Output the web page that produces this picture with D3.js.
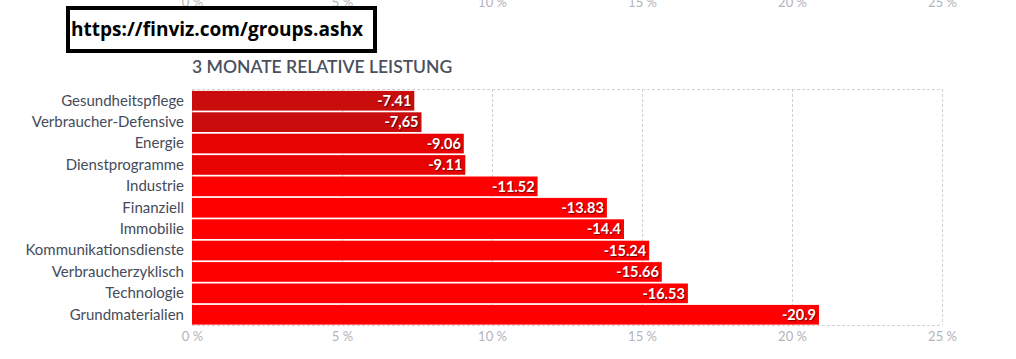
<!DOCTYPE html>
<html><head><meta charset="utf-8">
<script src="https://cdn.jsdelivr.net/npm/d3@7"></script>
<style>
html,body{margin:0;padding:0;background:#fff;}
svg{display:block;}
</style></head>
<body>
<svg id="chart" width="1016" height="359"></svg>
<script>
const categories = ["Gesundheitspflege","Verbraucher-Defensive","Energie","Dienstprogramme","Industrie","Finanziell","Immobilie","Kommunikationsdienste","Verbraucherzyklisch","Technologie","Grundmaterialien"];
const values = [-7.41,-7.65,-9.06,-9.11,-11.52,-13.83,-14.4,-15.24,-15.66,-16.53,-20.9];
const valueLabels = ["-7.41","-7,65","-9.06","-9.11","-11.52","-13.83","-14.4","-15.24","-15.66","-16.53","-20.9"];
const barColors = ["#c90c0c","#c90c0c","#e80303","#e80303","#ff0000","#ff0000","#ff0000","#ff0000","#ff0000","#ff0000","#ff0000"];
const tickValues = [0,5,10,15,20,25];
const tickLabels = ["0 %","5 %","10 %","15 %","20 %","25 %"];
const title = "3 MONATE RELATIVE LEISTUNG";
const urlText = "https://finviz.com/groups.ashx";

(function(){
const svg = d3.select("#chart");
const x = d3.scaleLinear().domain([0,25]).range([192,942]);
const y = d3.scaleBand().domain(categories).range([90.9,324.6]).paddingInner(0.08).paddingOuter(0);
const plotTop = 89, plotBottom = 325;

// grid
const g = svg.append("g");
g.selectAll("line.v").data(tickValues).join("line")
  .attr("x1", d => x(d)+0.5).attr("x2", d => x(d)+0.5)
  .attr("y1", plotTop).attr("y2", plotBottom)
  .attr("stroke", "#cfcfd6").attr("stroke-width", 1).attr("stroke-dasharray", "3,2");
g.append("line").attr("x1", x(0)).attr("x2", x(25)).attr("y1", plotTop+0.5).attr("y2", plotTop+0.5)
  .attr("stroke", "#cfcfd6").attr("stroke-dasharray", "3,2");
g.append("line").attr("x1", x(0)).attr("x2", x(25)).attr("y1", plotBottom+0.5).attr("y2", plotBottom+0.5)
  .attr("stroke", "#cfcfd6").attr("stroke-dasharray", "3,2");

// bars
svg.append("g").selectAll("rect").data(values).join("rect")
  .attr("x", x(0))
  .attr("y", (d,i) => y(categories[i]))
  .attr("width", d => x(Math.abs(d)) - x(0))
  .attr("height", y.bandwidth())
  .attr("fill", (d,i) => barColors[i]);

// value labels
svg.append("g").selectAll("text").data(values).join("text")
  .attr("x", d => x(Math.abs(d)) - 3)
  .attr("y", (d,i) => y(categories[i]) + y.bandwidth()/2)
  .attr("dy", "0.36em")
  .attr("text-anchor", "end")
  .style("font-family", "Lato, sans-serif").style("font-weight", "bold").style("font-size", "14.5px")
  .attr("fill", "#fff")
  .style("text-shadow", "1px 1px 1px rgba(0,0,0,0.55)")
  .text((d,i) => valueLabels[i]);

// category labels
const yAxis = d3.axisLeft(y).tickSize(0).tickPadding(8);
const ya = svg.append("g").attr("transform", `translate(${x(0)},0)`).call(yAxis);
ya.select(".domain").remove();
ya.selectAll("text").style("font-family", "Lato, sans-serif").style("font-size", "15px").attr("fill", "#454b5a");

// bottom axis
const xAxisB = d3.axisBottom(x).tickValues(tickValues).tickFormat((d,i) => tickLabels[i]).tickSize(0).tickPadding(7);
const xb = svg.append("g").attr("transform", `translate(0,${plotBottom})`).call(xAxisB);
xb.select(".domain").remove();
xb.selectAll("text").style("font-family", "Lato, sans-serif").style("font-size", "13px").attr("fill", "#b3b3bb");

// top axis (partially clipped, as in the source screenshot)
const xAxisT = d3.axisTop(x).tickValues(tickValues).tickFormat((d,i) => tickLabels[i]).tickSize(0).tickPadding(0);
const xt = svg.append("g").attr("transform", `translate(0,7)`).call(xAxisT);
xt.select(".domain").remove();
xt.selectAll("text").style("font-family", "Lato, sans-serif").style("font-size", "13px").attr("fill", "#b3b3bb");

// title
svg.append("text").attr("x", 192).attr("y", 73)
  .style("font-family", "Lato, sans-serif").style("font-weight", "600").style("font-size", "17.5px")
  .attr("fill", "#4b5060").text(title);

// url box
svg.append("rect").attr("x", 68).attr("y", 8).attr("width", 307).attr("height", 43)
  .attr("fill", "#fff").attr("stroke", "#000").attr("stroke-width", 4);
svg.append("text").attr("x", 71).attr("y", 36)
  .style("font-family", "'Open Sans', sans-serif").style("font-weight", "bold").style("font-size", "20px")
  .attr("textLength", 292).attr("lengthAdjust", "spacingAndGlyphs")
  .attr("fill", "#000").text(urlText);
})();
</script>
</body></html>
